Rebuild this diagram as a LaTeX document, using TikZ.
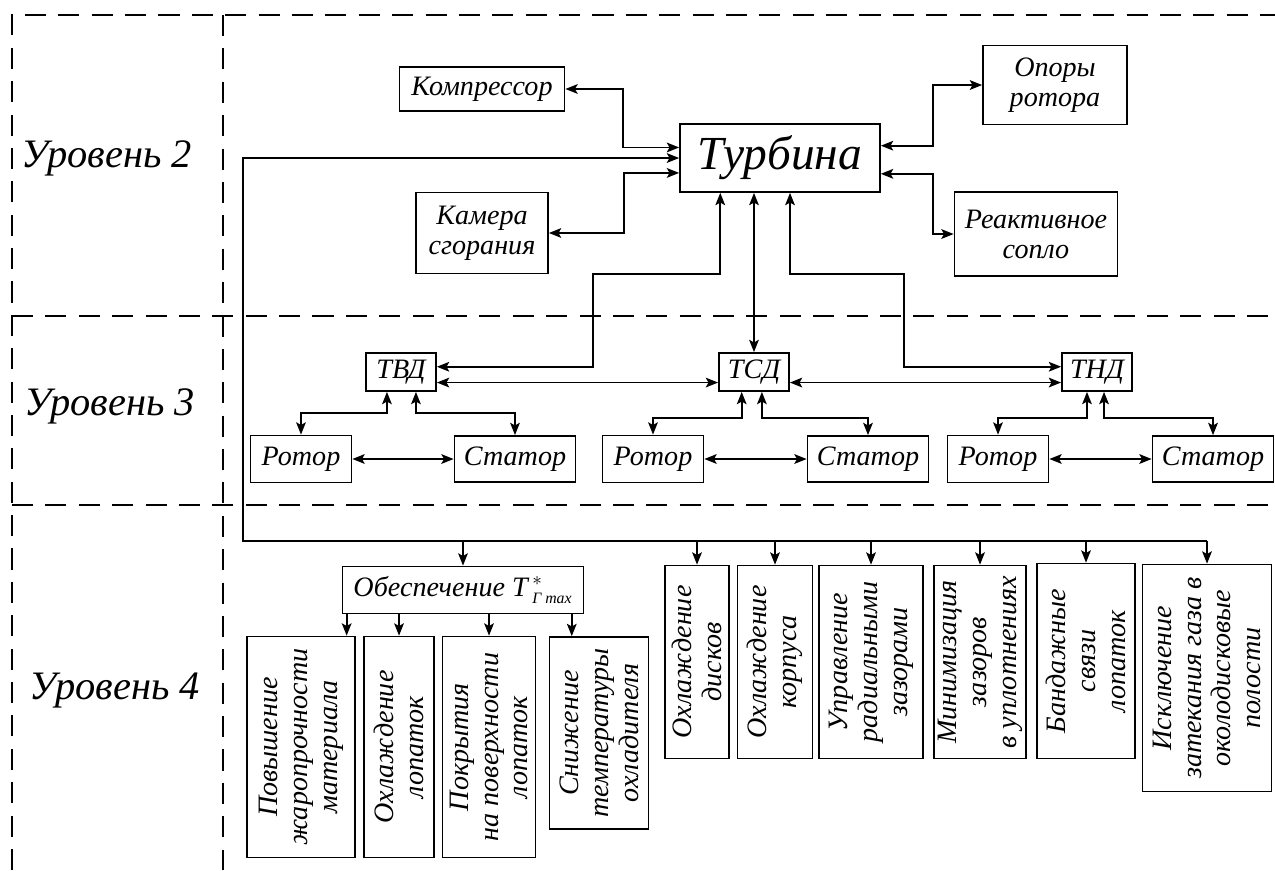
\documentclass[tikz,border=0pt]{standalone}
\usepackage{fontspec}
\setmainfont{Liberation Serif}
\usetikzlibrary{arrows.meta}
\begin{document}
\begin{tikzpicture}[x=0.02cm,y=-0.02cm,line width=1pt,
    box/.style={draw,inner sep=1pt,align=center,font=\fontsize{16}{17}\selectfont\itshape},
    vbox/.style={box,rotate=90},
    lvl/.style={font=\fontsize{23}{26}\selectfont\itshape},
    sep/.style={dash pattern=on 12pt off 7pt},
    arr/.style={-{Stealth[length=7pt,width=5.5pt,inset=1.5pt]}},
    barr/.style={{Stealth[length=7pt,width=5.5pt,inset=1.5pt]}-{Stealth[length=7pt,width=5.5pt,inset=1.5pt]}}]
\useasboundingbox (0,0) rectangle (1275,870);

\draw[sep] (12,870) -- (12,15) -- (1275,15);
\draw[sep] (223,15) -- (223,870);
\draw[sep] (12,316) -- (1275,316);
\draw[sep] (12,505) -- (1275,505);

\foreach \l/\x/\y in {2/107/158,3/110/406,4/115/690}
  \node[lvl] (lvl\l) at (\x,\y) {Уровень \l};

\node[box,minimum width=4cm,minimum height=1.36cm,font=\fontsize{27}{30}\selectfont\itshape] (turb) at (780,158) {Турбина};
\node[box,minimum width=3.3cm,minimum height=0.88cm] (komp) at (482,89) {Компрессор};
\node[box,minimum width=2.64cm,minimum height=1.62cm] (kam) at (482,233) {Камера\\сгорания};
\node[box,minimum width=2.88cm,minimum height=1.58cm] (opor) at (1055,85) {Опоры\\ротора};
\node[box,minimum width=3.26cm,minimum height=1.68cm] (reak) at (1036,234) {Реактивное\\сопло};

\draw[barr] (komp.east) -- ++(58,0) |- ([yshift=6pt]turb.west);
\draw[barr] (kam.east) -- ++(75,0) |- ([yshift=-8.5pt]turb.west);
\draw[barr] ([yshift=7pt]turb.east) -- ++(52,0) |- (opor.west);
\draw[barr] ([yshift=-9pt]turb.east) -- ++(52,0) |- (reak.west);

\foreach \n/\lbl/\x/\rx/\sx/\a/\b/\h in {tvd/ТВД/401/301/515/-8pt/8.5pt/21,tsd/ТСД/754/653/868/-7pt/4.5pt/26,tnd/ТНД/1097/998/1213/-5.7pt/4pt/26}{
  \node[box,minimum width=1.4cm,minimum height=0.76cm] (\n) at (\x,372) {\lbl};
  \node[box,minimum width=2.02cm,minimum height=0.94cm] (\n r) at (\rx,459) {Ротор};
  \node[box,minimum width=2.42cm,minimum height=0.92cm] (\n s) at (\sx,459) {Статор};
  \draw[barr] (\n r.east) -- (\n s.west);
  \draw[barr] ([xshift=\a]\n.south) -- ++(0,\h) -| (\n r.north);
  \draw[barr] ([xshift=\b]\n.south) -- ++(0,\h) -| (\n s.north);
}

\draw[barr] ([xshift=-34pt]turb.south) -- ++(0,81) -- ++(-127,0) |- ([yshift=3pt]tvd.east);
\draw[barr] (turb.south -| tsd.north) -- (tsd.north);
\draw[barr] ([xshift=5.7pt]turb.south) -- ++(0,81) -- ++(114,0) |- ([yshift=3pt]tnd.west);
\draw[barr] ([yshift=-6pt]tvd.east) -- ([yshift=-6pt]tsd.west);
\draw[barr] ([yshift=-6pt]tsd.east) -- ([yshift=-6pt]tnd.west);

\node[box,minimum width=4.82cm,minimum height=0.94cm] (obes) at (463,590) {Обеспечение T\,$^{*}_{\mbox{\fontsize{9}{9}\selectfont\itshape Г max}}$};

\node[vbox,minimum width=4.42cm,minimum height=2.16cm] (p1) at (301,747) {Повышение\\жаропрочности\\материала};
\node[vbox,minimum width=4.42cm,minimum height=1.4cm] (p2) at (399,747) {Охлаждение\\лопаток};
\node[vbox,minimum width=4.42cm,minimum height=1.86cm] (p3) at (489,747) {Покрытия\\на поверхности\\лопаток};
\node[vbox,minimum width=3.84cm,minimum height=1.98cm] (p4) at (599,733) {Снижение\\температуры\\охладителя};
\node[vbox,minimum width=3.86cm,minimum height=1.28cm] (q1) at (697,662) {Охлаждение\\дисков};
\node[vbox,minimum width=3.86cm,minimum height=1.5cm] (q2) at (775,662) {Охлаждение\\корпуса};
\node[vbox,minimum width=3.86cm,minimum height=2.08cm] (q3) at (871,662) {Управление\\радиальными\\зазорами};
\node[vbox,minimum width=3.86cm,minimum height=1.84cm] (q4) at (980,662) {Минимизация\\зазоров\\в уплотнениях};
\node[vbox,minimum width=3.9cm,minimum height=1.96cm] (q5) at (1086,661) {Бандажные\\связи\\лопаток};
\node[vbox,minimum width=4.54cm,minimum height=2.58cm] (q6) at (1207,678) {Исключение\\затекания газа в\\околодисковые\\полости};

\coordinate (bus) at (243,541);
\draw[arr] (q6.east |- bus) -- (bus) |- (turb.west);
\foreach \b in {obes.north,q1.east,q2.east,q3.east,q4.east,q5.east,q6.east}
  \draw[arr] (\b |- bus) -- (\b);
\coordinate (p1t) at ([xshift=26pt]p1.east);
\coordinate (p4t) at ([xshift=-15.5pt]p4.east);
\foreach \b in {p1t,p2.east,p3.east,p4t}
  \draw[arr] (obes.south -| \b) -- (\b);
\end{tikzpicture}
\end{document}
